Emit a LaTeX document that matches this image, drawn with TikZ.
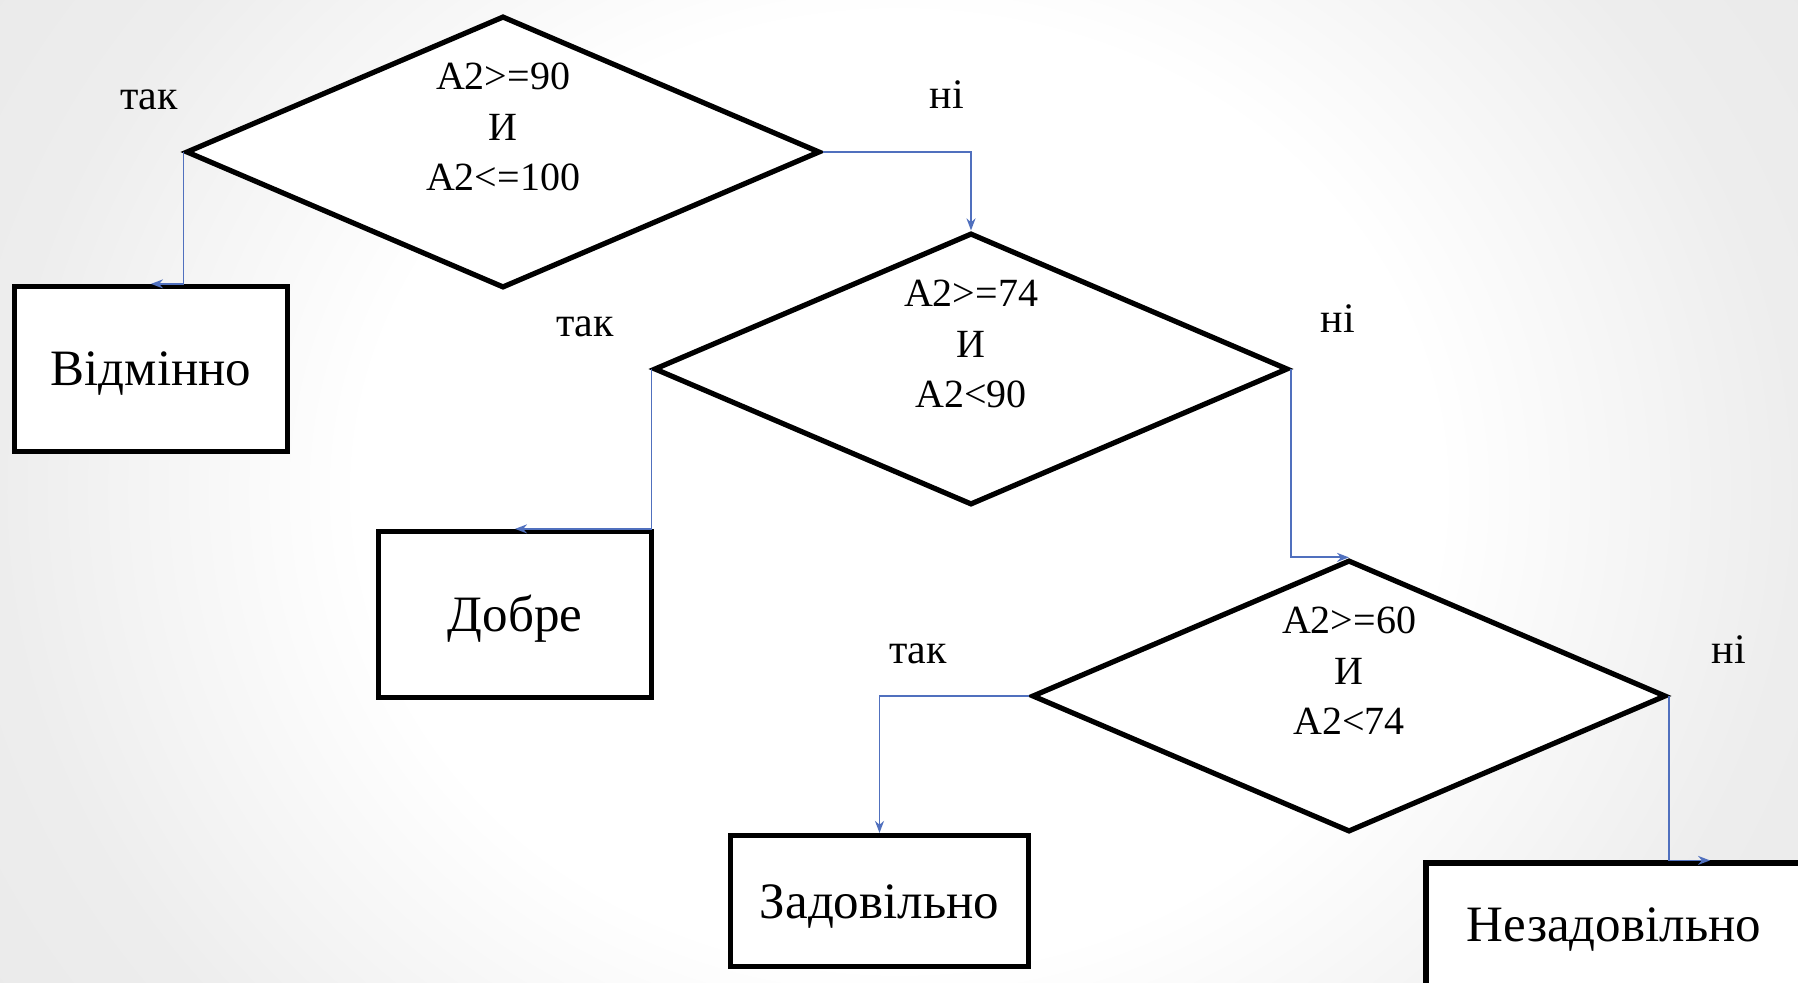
\documentclass[tikz,border=0pt]{standalone}
\usepackage{fontspec}
\setmainfont{Liberation Serif}
\usetikzlibrary{shapes.geometric, arrows.meta}
\definecolor{linkblue}{RGB}{80,112,190}
\pgfdeclareradialshading{slidebg}{\pgfpoint{0bp}{0bp}}{color(0bp)=(white); color(15bp)=(white); color(25bp)=(black!7); color(50bp)=(black!13)}

\begin{document}
\begin{tikzpicture}[x=0.5pt, y=-0.5pt,
		decision/.style={diamond, draw, line width=2.6pt, fill=white, minimum width=317pt, minimum height=136pt, inner sep=0pt},
		cond/.style={align=center, inner sep=0pt, font=\fontsize{20}{25.25}\selectfont},
		grade/.style={rectangle, draw, line width=2.6pt, fill=white, text height=17pt, text depth=0pt, font=\fontsize{25.5}{30}\selectfont},
		answer/.style={anchor=base, inner sep=0pt, font=\fontsize{21}{25}\selectfont},
		flow/.style={draw=linkblue, line width=0.9pt, -{Stealth[length=6pt, width=4.5pt]}}]
			\useasboundingbox (0,0) rectangle (1798,983);
			\clip (0,0) rectangle (1798,983);
			% slide background
			\shade[shading=slidebg] (0,-300) rectangle (1798,1283);
			% conditions
			\node[decision] (d1) at (503,152) {};
			\node[decision] (d2) at (971,369) {};
			\node[decision] (d3) at (1349,696) {};
			\node[cond] (c1) at ([yshift=12.5pt]d1.center) {A2>=90\\И\\A2<=100};
			\node[cond] (c2) at ([yshift=12.5pt]d2.center) {A2>=74\\И\\A2<90};
			\node[cond] (c3) at ([yshift=12.5pt]d3.center) {A2>=60\\И\\A2<74};
			% grades
			\node[grade, minimum width=136.5pt, minimum height=82.5pt] (g1) at (151,369) {Відмінно};
			\node[grade, minimum width=136.5pt, minimum height=83pt] (g2) at (515,614.5) {Добре};
			\node[grade, minimum width=149pt, minimum height=65.5pt] (g3) at (879.5,901) {Задовільно};
			\node[grade, minimum width=188pt, minimum height=70pt, text depth=9pt] (g4) at (1614,933) {Незадовільно};
			\coordinate (g4in) at ([xshift=48pt]g4.north);
			% branches
			\draw[flow] (d1.west) |- (g1.north);
			\draw[flow] (d1.east) -| (d2.north);
			\draw[flow] (d2.west) |- (g2.north);
			\draw[flow] (d2.east) |- (d3.north);
			\draw[flow] (d3.west) -| (g3.north);
			\draw[flow] (d3.east) |- (g4in);
			\foreach \txt/\x/\y [count=\i] in {так/149/110, ні/947/109, так/585/337, ні/1338/333, так/918/663, ні/1729/663}{
			  \node[answer] (a\i) at (\x,\y) {\txt};
			}
		\end{tikzpicture}
\end{document}
